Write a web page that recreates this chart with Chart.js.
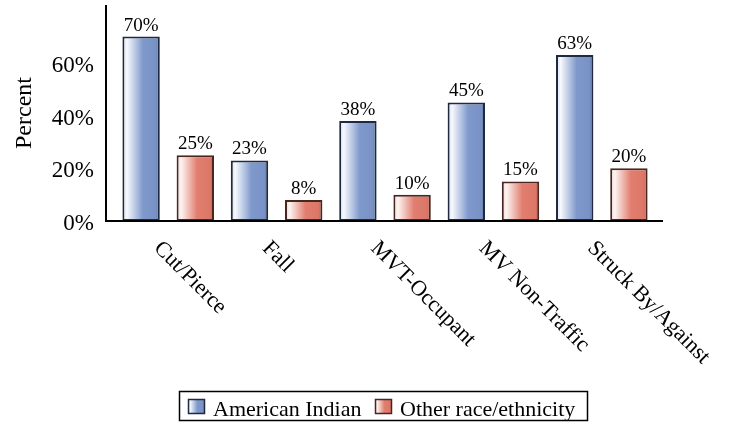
<!DOCTYPE html>
<html>
<head>
<meta charset="utf-8">
<title>Injury mechanism by race/ethnicity</title>
<script src="https://cdn.jsdelivr.net/npm/chart.js@4/dist/chart.umd.min.js"></script>
<style>
  html, body { margin: 0; padding: 0; background: #fff; }
  #wrap { width: 730px; height: 423px; }
</style>
</head>
<body>
<div id="wrap"><canvas id="chart" width="730" height="423"></canvas></div>
<script>
// Injury mechanisms (categories) and the share for each group, in percent
const categories = ['Cut/Pierce', 'Fall', 'MVT-Occupant', 'MV Non-Traffic', 'Struck By/Against'];
const americanIndian = [70, 23, 38, 45, 63];
const otherRace = [25, 8, 10, 15, 20];
const seriesNames = ['American Indian', 'Other race/ethnicity'];
const yTickValues = [0, 20, 40, 60];

const SERIF = "'Liberation Serif', 'Times New Roman', serif";
const BAR_PCT = 0.69;

const palettes = [
  { border: '#1f2a42', stops: ['#d3d9e8', '#f7f9fd', '#7f99cc', '#7892c6', '#56699a'] },
  { border: '#4a2620', stops: ['#ead3ce', '#fdf4f2', '#e17e6f', '#dc7767', '#b3574a'] }
];

function makeGradient(ctx, x0, x1, pal) {
  const g = ctx.createLinearGradient(x0, 0, x1, 0);
  const pos = [0, 0.12, 0.55, 0.9, 1];
  pal.stops.forEach((c, i) => g.addColorStop(pos[i], c));
  return g;
}

// Horizontal shading across each bar, computed from the category scale
function barFill(dsIndex) {
  return function (context) {
    const chart = context.chart;
    const pal = palettes[dsIndex];
    const xs = chart.scales && chart.scales.x;
    if (!chart.chartArea || !xs || context.type !== 'data') return pal.stops[2];
    const catW = (xs.right - xs.left) / categories.length;
    const center = xs.getPixelForValue(context.dataIndex) + (dsIndex === 0 ? -1 : 1) * catW / 4;
    const w = catW / 2 * BAR_PCT;
    return makeGradient(chart.ctx, center - w / 2, center + w / 2, pal);
  };
}

// Axis lines, extended a little past the plotted categories
const axisLines = {
  id: 'axisLines',
  afterDatasetsDraw(chart) {
    const { ctx, chartArea: a } = chart;
    ctx.save();
    ctx.strokeStyle = '#000';
    ctx.lineWidth = 2;
    ctx.beginPath();
    ctx.moveTo(a.left - 8, a.top);
    ctx.lineTo(a.left - 8, a.bottom);
    ctx.lineTo(a.right + 7, a.bottom);
    ctx.stroke();
    ctx.restore();
  }
};

// Percentage printed above each bar
const valueLabels = {
  id: 'valueLabels',
  afterDatasetsDraw(chart) {
    const ctx = chart.ctx;
    ctx.save();
    ctx.font = '19px ' + SERIF;
    ctx.fillStyle = '#000';
    ctx.textAlign = 'center';
    ctx.textBaseline = 'alphabetic';
    chart.data.datasets.forEach((ds, di) => {
      chart.getDatasetMeta(di).data.forEach((bar, i) => {
        ctx.fillText(ds.data[i] + '%', bar.x, bar.y - 6);
      });
    });
    ctx.restore();
  }
};

// Category names running diagonally down from each group
const slantedLabels = {
  id: 'slantedLabels',
  afterDraw(chart) {
    const ctx = chart.ctx;
    const xs = chart.scales.x;
    ctx.save();
    ctx.font = '22px ' + SERIF;
    ctx.fillStyle = '#000';
    ctx.textAlign = 'left';
    ctx.textBaseline = 'middle';
    categories.forEach((label, i) => {
      const cx = xs.getPixelForValue(i);
      ctx.save();
      ctx.translate(cx - 11, chart.chartArea.bottom + 24);
      ctx.rotate(Math.PI / 4);
      ctx.fillText(label, 0, 0);
      ctx.restore();
    });
    ctx.restore();
  }
};

// Boxed legend below the plot
const boxedLegend = {
  id: 'boxedLegend',
  afterDraw(chart) {
    const ctx = chart.ctx;
    const box = { x: 179.5, y: 391.5, w: 408, h: 29 };
    const items = [
      { x: 188, textX: 213 },
      { x: 375, textX: 400 }
    ];
    ctx.save();
    ctx.strokeStyle = '#000';
    ctx.lineWidth = 1.5;
    ctx.strokeRect(box.x, box.y, box.w, box.h);
    ctx.font = '22px ' + SERIF;
    ctx.fillStyle = '#000';
    ctx.textBaseline = 'alphabetic';
    ctx.textAlign = 'left';
    seriesNames.forEach((name, i) => {
      const it = items[i];
      const pal = palettes[i];
      ctx.fillStyle = makeGradient(ctx, it.x, it.x + 17, pal);
      ctx.fillRect(it.x, 399, 17, 15);
      ctx.strokeStyle = pal.border;
      ctx.lineWidth = 1.5;
      ctx.strokeRect(it.x + 0.5, 399.5, 16, 14);
      ctx.fillStyle = '#000';
      ctx.fillText(name, it.textX, 415.5);
    });
    ctx.restore();
  }
};

new Chart(document.getElementById('chart'), {
  type: 'bar',
  data: {
    labels: categories,
    datasets: [
      {
        label: seriesNames[0],
        data: americanIndian,
        backgroundColor: barFill(0),
        borderColor: palettes[0].border,
        borderWidth: 2,
        borderSkipped: false
      },
      {
        label: seriesNames[1],
        data: otherRace,
        backgroundColor: barFill(1),
        borderColor: palettes[1].border,
        borderWidth: 2,
        borderSkipped: false
      }
    ]
  },
  options: {
    responsive: false,
    animation: false,
    events: [],
    layout: { padding: { top: 5, right: 74, left: 0, bottom: 0 } },
    datasets: { bar: { categoryPercentage: 1, barPercentage: BAR_PCT } },
    plugins: {
      legend: { display: false },
      tooltip: { enabled: false }
    },
    scales: {
      x: {
        grid: { display: false, drawTicks: false },
        border: { display: false },
        ticks: { display: false },
        afterFit(scale) {
          scale.height = 202;
          scale.paddingLeft = 0;
          scale.paddingRight = 0;
        }
      },
      y: {
        min: 0,
        max: 82,
        grid: { display: false, drawTicks: false },
        border: { display: false },
        afterBuildTicks(scale) { scale.ticks = yTickValues.map(v => ({ value: v })); },
        afterFit(scale) {
          scale.width = 114;
          scale.paddingTop = 0;
          scale.paddingBottom = 0;
        },
        ticks: {
          padding: 20,
          labelOffset: 3,
          color: '#000',
          font: { family: SERIF, size: 23 },
          callback: v => v + '%'
        },
        title: {
          display: true,
          text: 'Percent',
          color: '#000',
          font: { family: SERIF, size: 24 },
          padding: { top: 10, bottom: 0 }
        }
      }
    }
  },
  plugins: [axisLines, valueLabels, slantedLabels, boxedLegend]
});
</script>
</body>
</html>
